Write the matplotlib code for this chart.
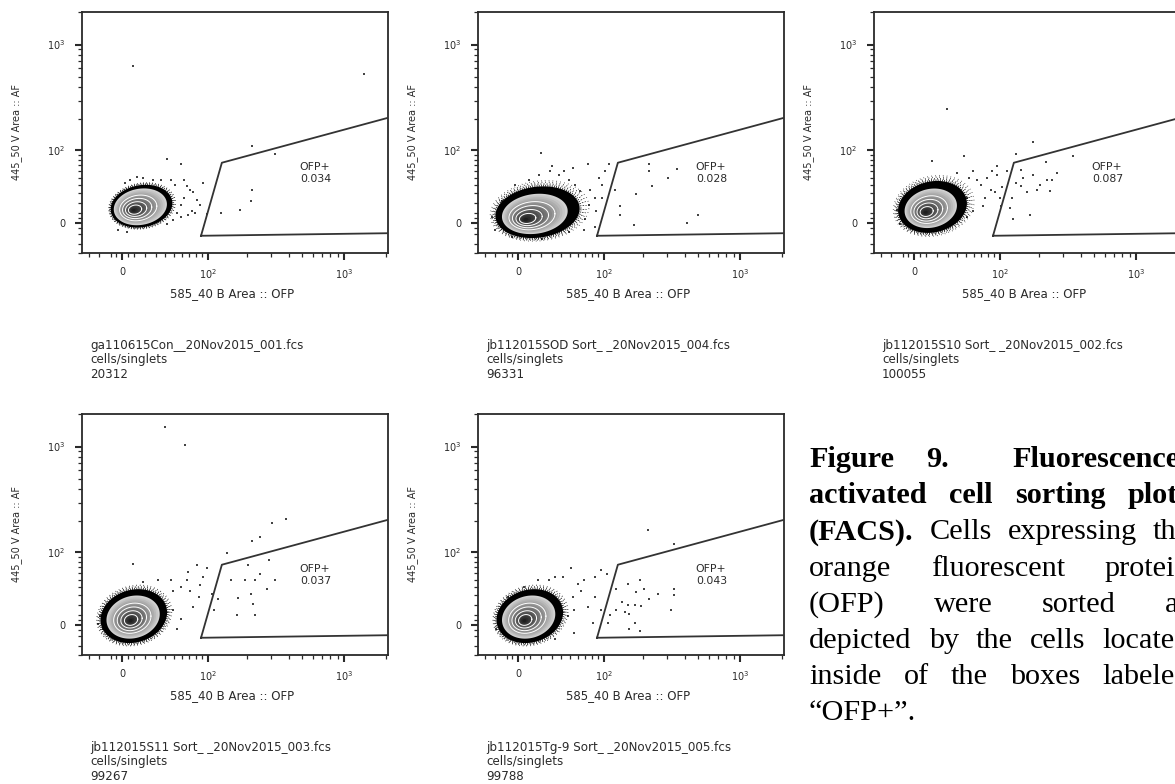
import numpy as np
import matplotlib
matplotlib.use("Agg")
import matplotlib.pyplot as plt

plt.rcParams['font.family'] = ['DejaVu Sans']
plt.rcParams['mathtext.fontset'] = 'dejavusans'

# --- sample info printed under each plot ---
sample_files = ["ga110615Con__20Nov2015_001.fcs",
                "jb112015SOD Sort_ _20Nov2015_004.fcs",
                "jb112015S10 Sort_ _20Nov2015_002.fcs",
                "jb112015S11 Sort_ _20Nov2015_003.fcs",
                "jb112015Tg-9 Sort_ _20Nov2015_005.fcs"]
gate_path = "cells/singlets"
event_counts = [20312, 96331, 100055, 99267, 99788]
ofp_pos_pct = ["0.034", "0.028", "0.087", "0.037", "0.043"]

# OFP+ gate, same for every sample, vertices in (OFP, AF) units
gate_ofp = [88, 129, 4000, 4000, 88]
gate_af = [-12, 74, 262, -9, -12]

# main population: outer extent of the contoured cloud and its densest point
cloud_ofp_lo = [-10, -20, -14, -19, -19]
cloud_ofp_hi = [48, 62, 51, 42, 42]
cloud_af_lo = [-4, -14, -9, -17, -17]
cloud_af_hi = [40, 38, 45, 37, 37]
core_ofp = [9.5, 6, 9.5, 7, 5]
core_af = [12, 3, 10, 4, 4]
solid_frac = [0.86, 0.78, 0.76, 0.8, 0.8]
speckle_rings = [2, 4, 4, 3, 3]

# single events outside the main cloud
con_ofp = [9.5, 42, 59, 218, 215, 178, 127, 218, 320, 1400, 13, 27, 35, 46, 51, 62, 67, 71, 75, 82,
           74, 68, 58, 54, 58, 62, 92, 87, 79, 18, 7, 2.6, -3.4, 4.3, 42, 49, 98]
con_af = [630, 81, 72, 34, 22, 13, 10, 110, 91, 530, 51, 47, 46, 46, 40, 46, 39, 34, 31, 23,
          12, 7.5, 5.6, 10, 18, 25, 43, 18, 10, 49, 46, 43, -6.6, -8.5, -1, 2.8, 8.5]

sod_ofp = [20, 73, 111, 43, 28, 222, 222, 355, 305, 232, 177, 135, 135, 171, 503, 420, 122, 96, 92, 84,
           86, 84, 68, 75, 63, 56, 49, 38, 18, 9.5, -2.6, -14, -23, -20, -5, 21, 49, 70, 77, 96,
           102, 53, 30]
sod_af = [93, 72, 72, 60, 60, 72, 60, 63, 50, 39, 29, 17, 7.5, -1.9, 7.5, 0, 34, 40, 49, 25,
          12, -3.8, -6.6, 18, 33, 40, 47, 54, 53, 47, 40, 22, 5.6, -6.6, -13, -15, -8.5, 3.8, 34, 25,
          60, 65, 68]

s10_ofp = [29.5, 181, 226, 350, 135, 47, 15.7, 95, 95, 59, 40, 145, 152, 181, 204, 240, 250, 270, 230, 194,
           163, 145, 133, 125, 120, 127, 171, 103, 100, 92, 84, 75, 72, 69, 64, 53, 79, 87, 115, 105,
           51, 59, 51, -15, -12]
s10_af = [253, 120, 75, 87, 91, 87, 77, 68, 54, 60, 57, 61, 49, 54, 40, 33, 46, 57, 47, 34,
          31, 39, 43, 25, 15, 3.8, 7.5, 17, 25, 31, 34, 25, 17, 40, 47, 49, 49, 60, 60, 37,
          25, 12, 5.6, 13, -1]

s11_ofp = [40, 64, 9.5, 140, 98, 218, 250, 305, 385, 290, 204, 250, 320, 280, 230, 194, 152, 171, 168, 230,
           120, 112, 87, 109, 212, 222, 84, 75, 71, 67, 58, 49, 46, 32, 18.4, 49, 58, 54, -19, -21,
           -16.5, 68, 82, 92]
s11_af = [1530, 1040, 75, 98, 68, 128, 141, 194, 212, 83, 73, 59, 49, 37, 50, 49, 50, 27, 10, 9.4,
          26, 15, 43, 31, 32, 21, 28, 18, 35, 49, 40, 35, 49, 50, 47, 15, 5.6, -3.8, 8.5, 1,
          -3.8, 62, 73, 54]

tg9_ofp = [218, 337, 51, 95, 107, 84, 68, 191, 155, 125, 178, 204, 258, 337, 337, 222, 173, 194, 155, 138,
           125, 145, 158, 173, 158, 191, 320, 112, 109, 95, 84, 82, 74, 64, 60, 54, 55, 48, 42, 33,
           27, 17.5, 5.2, -8.6, -17.5, -19, 2.6, 33, 55]
tg9_af = [164, 121, 68, 65, 59, 54, 50, 49, 44, 37, 34, 37, 32, 37, 30, 26, 20, 19, 20, 23,
          15, 13, 11, 1.9, -3.8, -5.6, 15, 10, 1.9, 15, 28, 1.9, 18, 35, 44, 28, 15, 8.5, 54, 54,
          50, 49, 40, 28, 8.5, -3.8, -13.3, -13.3, -7.5]

events_ofp = [con_ofp, sod_ofp, s10_ofp, s11_ofp, tg9_ofp]
events_af = [con_af, sod_af, s10_af, s11_af, tg9_af]

# axis ticks
major_ticks = [0, 100, 1000]
major_labels = ['0', r'$\mathregular{10^2}$', r'$\mathregular{10^3}$']
minor_ticks = [-30, -20, -10, -5, 5, 10, 20, 30, 40, 50, 60, 70, 80, 90,
               200, 300, 400, 500, 600, 700, 800, 900, 2000]

# caption (justified block on the right); "" marks the double space after "9."
caption_words = [["Figure", "9.", "", "Fluorescence-"],
                 ["activated", "cell", "sorting", "plots"],
                 ["(FACS).", "Cells", "expressing", "the"],
                 ["orange", "fluorescent", "protein"],
                 ["(OFP)", "were", "sorted", "as"],
                 ["depicted", "by", "the", "cells", "located"],
                 ["inside", "of", "the", "boxes", "labeled"],
                 ["\u201cOFP+\u201d."]]
caption_bold = [4, 4, 1, 0, 0, 0, 0, 0]

W, H = 1175.0, 784.0
fig = plt.figure(figsize=(W / 100, H / 100), dpi=100)

# top-left corners of the plot frames, pixels
frames = [(82, 12), (478, 12), (874, 12), (82, 414), (478, 414)]
fw, fh = 306, 241
ink = '#2a2a2a'


def draw_cloud(ax, i):
    fx = ax.xaxis.get_transform()
    fy = ax.yaxis.get_transform()
    ix, iy = fx.inverted(), fy.inverted()
    x_lo, x_hi = fx.transform(np.array([cloud_ofp_lo[i], cloud_ofp_hi[i]], float))
    y_lo, y_hi = fy.transform(np.array([cloud_af_lo[i], cloud_af_hi[i]], float))
    cx, cy = (x_lo + x_hi) / 2, (y_lo + y_hi) / 2
    rx, ry = (x_hi - x_lo) / 2, (y_hi - y_lo) / 2
    kx = fx.transform(np.array([core_ofp[i]], float))[0]
    ky = fy.transform(np.array([core_af[i]], float))[0]
    th = np.linspace(0, 2 * np.pi, 240)

    def ring(t):
        ox = kx + t * (cx - kx)
        oy = ky + t * (cy - ky)
        dx = t * rx * np.cos(th)
        dy = t * ry * np.sin(th) + 0.14 * dx * ry / rx
        return ix.transform(ox + dx), iy.transform(oy + dy)

    # ragged edge of single events around the cloud
    for k in range(speckle_rings[i]):
        xs, ys = ring(1.02 + 0.05 * k)
        ax.plot(xs, ys, color='black', lw=1.3 - 0.15 * k,
                ls=(0.7 * k, (0.4, 0.8 + 0.7 * k)), zorder=2)
    xs, ys = ring(1.0)
    ax.fill(xs, ys, color='black', lw=0, zorder=3)
    n = 16
    for t, g in zip(np.linspace(solid_frac[i], 0.06, n), np.linspace(0.82, 0.12, n)):
        xs, ys = ring(t)
        ax.fill(xs, ys, color=str(round(g, 3)), lw=0, zorder=3)
    for t in [0.25, 0.4, 0.55, 0.7]:
        xs, ys = ring(t * solid_frac[i])
        ax.plot(xs, ys, color='white', lw=0.7, zorder=3)


for i, (left, top) in enumerate(frames):
    ax = fig.add_axes([left / W, 1 - (top + fh) / H, fw / W, fh / H])
    ax.set_xscale('asinh', linear_width=52)
    ax.set_yscale('asinh', linear_width=44)
    ax.set_xlim(-37, 2064)
    ax.set_ylim(-25, 2006)

    ax.scatter(events_ofp[i], events_af[i], s=1.8, marker='s', color='#444444',
               linewidths=0, zorder=1)
    draw_cloud(ax, i)
    ax.plot(gate_ofp, gate_af, color='#333333', lw=1.3, zorder=4)

    ax.set_xticks(major_ticks, major_labels)
    ax.set_yticks(major_ticks, major_labels)
    ax.set_xticks(minor_ticks, minor=True)
    ax.set_yticks(minor_ticks, minor=True)
    ax.tick_params(which='both', direction='out', colors=ink, labelsize=7)
    ax.tick_params(which='major', length=5, width=1.5)
    ax.tick_params(which='minor', length=2.8, width=0.9)
    ax.tick_params(axis='x', which='major', pad=5)
    ax.tick_params(axis='y', which='major', pad=7)
    for sp in ax.spines.values():
        sp.set_color(ink)
        sp.set_linewidth(1.3)

    ax.set_xlabel("585_40 B Area :: OFP", fontsize=8.5, color=ink, va='center')
    ax.xaxis.set_label_coords(0.49, -41 / fh)
    ax.set_ylabel("445_50 V Area :: AF", fontsize=7, color=ink, va='center')
    ax.yaxis.set_label_coords(-65 / fw, 0.5)

    ax.text(0.712, 0.33, "OFP+\n" + ofp_pos_pct[i], transform=ax.transAxes,
            fontsize=7.8, color=ink, ha='left', va='center', linespacing=1.25)

    ax.text(8 / fw, -107 / fh, f"{sample_files[i]}\n{gate_path}\n{event_counts[i]}",
            transform=ax.transAxes, fontsize=8.6, color=ink, ha='left', va='center',
            linespacing=1.2)

# justified caption
renderer = fig.canvas.get_renderer()
x_left, x_right = 809 / W, 1190 / W
for n, words in enumerate(caption_words):
    y = 1 - (467 + 36.2 * n) / H
    texts = []
    for j, w in enumerate(words):
        texts.append(fig.text(0, y, w, fontsize=21.8, family='Liberation Serif',
                              weight='bold' if j < caption_bold[n] else 'normal',
                              va='baseline', ha='left', color='black'))
    widths = [t.get_window_extent(renderer).width / W if t.get_text() else 0.0
              for t in texts]
    if len(words) > 1 and n < len(caption_words) - 1:
        gap = (x_right - x_left - sum(widths)) / (len(words) - 1)
    else:
        gap = 6 / W
    x = x_left
    for t, wd in zip(texts, widths):
        t.set_x(x)
        x += wd + gap

fig.savefig("out.png", dpi=100)
